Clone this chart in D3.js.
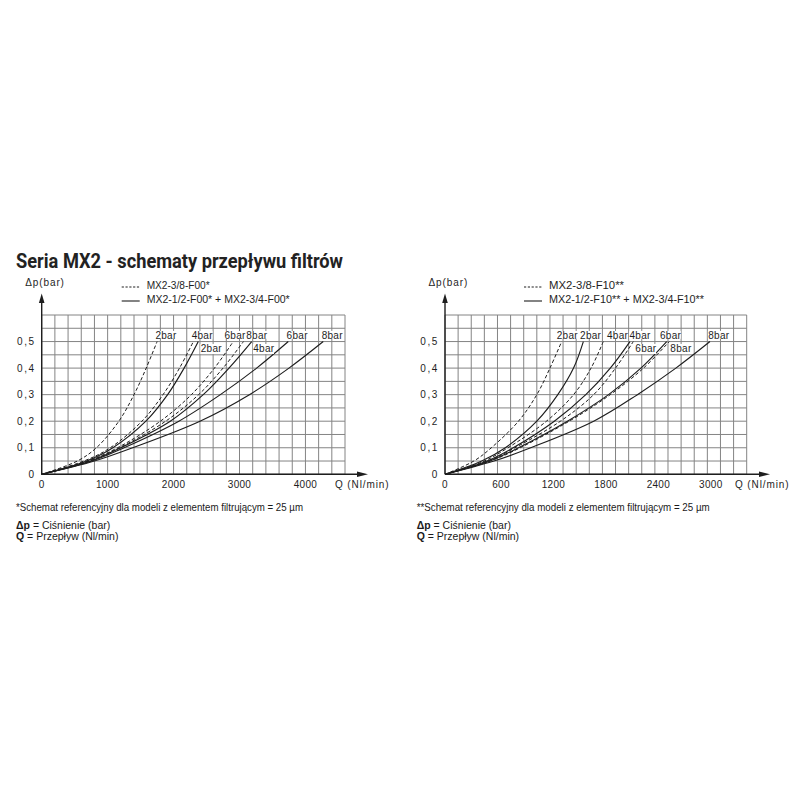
<!DOCTYPE html>
<html><head><meta charset="utf-8">
<script src="https://cdn.jsdelivr.net/npm/d3@7"></script>
<style>
body{margin:0;background:#fff;}
svg{display:block;}
</style></head><body>
<svg id="c" width="800" height="800"></svg>
<script>
// ---- data ----
const dpPoints = [0, 0.05, 0.1, 0.2, 0.3, 0.4, 0.5];           // Δp (bar)
const pressureLabels = ["2bar", "4bar", "6bar", "8bar"];
// Left chart: MX2-3/8-F00* (dashed), MX2-1/2 + 3/4-F00* (solid) — Q (Nl/min) at each dpPoint
const leftDashedQ = [
  [0, 540, 830, 1170, 1400, 1585, 1750],
  [0, 640, 1040, 1520, 1840, 2090, 2300],
  [0, 700, 1150, 1800, 2270, 2620, 2905],
  [0, 720, 1180, 1880, 2380, 2750, 3060]
];
const leftSolidQ = [
  [0, 680, 1080, 1580, 1910, 2160, 2375],
  [0, 740, 1200, 1950, 2450, 2840, 3185],
  [0, 760, 1250, 2080, 2710, 3260, 3740],
  [0, 800, 1380, 2400, 3150, 3750, 4270]
];
// Right chart: MX2-3/8-F10** (dashed), MX2-1/2 + 3/4-F10** (solid)
const rightDashedQ = [
  [0, 330, 530, 840, 1050, 1200, 1334],
  [0, 450, 720, 1160, 1470, 1670, 1810],
  [0, 490, 800, 1320, 1700, 1950, 2153],
  [0, 520, 860, 1420, 1890, 2270, 2565]
];
const rightSolidQ = [
  [0, 420, 690, 1050, 1290, 1470, 1582],
  [0, 480, 780, 1250, 1610, 1890, 2115],
  [0, 510, 840, 1400, 1870, 2240, 2535],
  [0, 560, 980, 1700, 2200, 2640, 3030]
];
const leftXTicks = [0, 1000, 2000, 3000, 4000];
const rightXTicks = [0, 600, 1200, 1800, 2400, 3000];
const yTicks = [0, 0.1, 0.2, 0.3, 0.4, 0.5];
const leftLegend = ["MX2-3/8-F00*", "MX2-1/2-F00* + MX2-3/4-F00*"];
const rightLegend = ["MX2-3/8-F10**", "MX2-1/2-F10** + MX2-3/4-F10**"];
const titleText = "Seria MX2 - schematy przepływu filtrów";
const leftNote = "*Schemat referencyjny dla modeli z elementem filtrującym = 25 µm";
const rightNote = "**Schemat referencyjny dla modeli z elementem filtrującym = 25 µm";

// ---- label placement (style) ----
const leftDashedLab = [[-1.7, "up"], [-1.7, "up"], [-8.8, "up"], [2.8, "up"]];
const leftSolidLab  = [[2.4, "down"], [1.5, "down"], [-1.7, "up"], [-1.6, "up"]];
const rightDashedLab = [[-5, "up"], [3.7, "up"], [2, "down"], [1, "down"]];
const rightSolidLab  = [[-3.3, "up"], [-0.5, "up"], [-6.7, "up"], [-1.8, "up"]];

const svg = d3.select("#c");
const TECH = '"Liberation Sans Narrow","Liberation Sans",Arial,sans-serif';
const ink = "#1e1e1e";
const fmtY = d3.formatLocale({decimal: ",", thousands: " ", grouping: [3], currency: ["", ""]}).format(".1f");

svg.append("text").attr("x", 16).attr("y", 267.5)
  .attr("font-family", "Roboto, 'Open Sans', sans-serif").attr("font-weight", 700)
  .attr("font-size", 20.5).attr("fill", "#222")
  .attr("textLength", 327).attr("lengthAdjust", "spacingAndGlyphs")
  .text(titleText);

function drawChart(cfg) {
  const g = svg.append("g");
  const x = d3.scaleLinear().domain([0, cfg.xMax]).range([cfg.x0, cfg.x1]);
  const y = d3.scaleLinear().domain([0, 0.6]).range([474.3, 315]);

  // grid
  const gx = d3.range(0, cfg.xMax + 1e-6, cfg.xStep);
  const gy = d3.range(0, 0.6 + 1e-6, 0.05);
  g.append("g").selectAll("line").data(gx).join("line")
    .attr("x1", d => x(d)).attr("x2", d => x(d)).attr("y1", y(0)).attr("y2", y(0.6))
    .attr("stroke", "#848484").attr("stroke-width", 1);
  g.append("g").selectAll("line").data(gy).join("line")
    .attr("x1", x(0)).attr("x2", x(cfg.xMax)).attr("y1", d => y(d)).attr("y2", d => y(d))
    .attr("stroke", "#848484").attr("stroke-width", 1);

  // axes with arrows
  g.append("line").attr("x1", x(0)).attr("x2", x(0)).attr("y1", y(0)).attr("y2", 300)
    .attr("stroke", ink).attr("stroke-width", 1.4);
  g.append("path").attr("d", `M${x(0)-2.8},303 L${x(0)+2.8},303 L${x(0)},293.5 Z`).attr("fill", ink);
  g.append("line").attr("x1", x(0)).attr("x2", cfg.arrowX - 8).attr("y1", y(0)).attr("y2", y(0))
    .attr("stroke", ink).attr("stroke-width", 1.4);
  g.append("path").attr("d", `M${cfg.arrowX-11},${y(0)-2.8} L${cfg.arrowX-11},${y(0)+2.8} L${cfg.arrowX},${y(0)} Z`).attr("fill", ink);

  // tick labels
  g.append("g").selectAll("text").data(cfg.xTicks).join("text")
    .attr("x", d => x(d) + (d === 0 ? 0 : cfg.tickDx)).attr("y", 488)
    .attr("text-anchor", "middle").attr("font-family", TECH).attr("font-size", 10)
    .attr("letter-spacing", 0.3).attr("fill", ink).text(d => d);
  g.append("g").selectAll("text").data(yTicks).join("text")
    .attr("x", x(0) - 6).attr("y", d => y(d) + 3.5)
    .attr("text-anchor", "end").attr("font-family", TECH).attr("font-size", 10)
    .attr("letter-spacing", 1.6).attr("fill", ink).text(d => d === 0 ? "0" : fmtY(d));

  g.append("text").attr("x", cfg.qLabelX).attr("y", 488).attr("font-family", TECH)
    .attr("font-size", 10).attr("letter-spacing", 0.9).attr("fill", ink).text("Q (Nl/min)");
  g.append("text").attr("x", x(0) - 16.5).attr("y", 286).attr("font-family", TECH)
    .attr("font-size", 10).attr("letter-spacing", 0.9).attr("fill", ink).text("Δp(bar)");

  // legend
  const lx = cfg.legendX;
  g.append("line").attr("x1", lx).attr("x2", lx + 18).attr("y1", 287).attr("y2", 287)
    .attr("stroke", ink).attr("stroke-width", 1).attr("stroke-dasharray", "2.2,1.6");
  g.append("line").attr("x1", lx).attr("x2", lx + 18).attr("y1", 301).attr("y2", 301)
    .attr("stroke", ink).attr("stroke-width", 1.1);
  g.append("text").attr("x", lx + 25).attr("y", 289).attr("font-family", TECH).attr("font-size", 10)
    .attr("fill", ink).attr("textLength", cfg.legW[0]).attr("lengthAdjust", "spacingAndGlyphs").text(cfg.legend[0]);
  g.append("text").attr("x", lx + 25).attr("y", 303).attr("font-family", TECH).attr("font-size", 10)
    .attr("fill", ink).attr("textLength", cfg.legW[1]).attr("lengthAdjust", "spacingAndGlyphs").text(cfg.legend[1]);

  // curves
  const line = d3.line().x(d => x(d[0])).y(d => y(d[1])).curve(d3.curveCatmullRom.alpha(0.5));
  const series = [];
  cfg.dashed.forEach((q, i) => series.push({q, dash: true, lab: pressureLabels[i], pos: cfg.dashedLab[i]}));
  cfg.solid.forEach((q, i) => series.push({q, dash: false, lab: pressureLabels[i], pos: cfg.solidLab[i]}));
  series.forEach(s => {
    g.append("path").datum(s.q.map((v, j) => [v, dpPoints[j]]))
      .attr("d", line).attr("fill", "none").attr("stroke", ink)
      .attr("stroke-width", s.dash ? 1 : 1.15)
      .attr("stroke-dasharray", s.dash ? "3.5,2.2" : null);
  });
  series.forEach(s => {
    const ex = x(s.q[s.q.length - 1]);
    const up = s.pos[1] === "up";
    const ty = up ? y(0.5) - 2.6 : 352;
    const t = g.append("text").attr("x", ex + s.pos[0]).attr("y", ty)
      .attr("font-family", TECH).attr("font-size", 10).attr("letter-spacing", 0.3)
      .attr("fill", ink).text(s.lab);
    const b = t.node().getBBox();
    g.insert("rect", () => t.node()).attr("x", b.x - 0.3).attr("y", b.y + 1)
      .attr("width", b.width - 0.5).attr("height", up ? ty - b.y - 1.2 : b.height - 1)
      .attr("fill", "#fff");
  });
}

drawChart({x0: 41.7, x1: 345, xMax: 4600, xStep: 200, xTicks: leftXTicks, tickDx: 0,
  arrowX: 368, qLabelX: 335, legendX: 121.7, legend: leftLegend, legW: [63, 143],
  dashed: leftDashedQ, solid: leftSolidQ, dashedLab: leftDashedLab, solidLab: leftSolidLab});
drawChart({x0: 445, x1: 746.7, xMax: 3450, xStep: 150, xTicks: rightXTicks, tickDx: 3.5,
  arrowX: 770, qLabelX: 735, legendX: 524, legend: rightLegend, legW: [75, 155],
  dashed: rightDashedQ, solid: rightSolidQ, dashedLab: rightDashedLab, solidLab: rightSolidLab});

// footnotes
function note(xp, text, w) {
  svg.append("text").attr("x", xp).attr("y", 511).attr("font-family", TECH).attr("font-size", 11)
    .attr("fill", "#1a1a1a").attr("textLength", w).attr("lengthAdjust", "spacingAndGlyphs").text(text);
  const t1 = svg.append("text").attr("x", xp).attr("y", 528.5).attr("font-family", TECH).attr("font-size", 10.5).attr("fill", "#1a1a1a");
  t1.append("tspan").attr("font-weight", 700).text("Δp");
  t1.append("tspan").text(" = Ciśnienie (bar)");
  const t2 = svg.append("text").attr("x", xp).attr("y", 539.5).attr("font-family", TECH).attr("font-size", 10.5).attr("fill", "#1a1a1a");
  t2.append("tspan").attr("font-weight", 700).text("Q");
  t2.append("tspan").text(" = Przepływ (Nl/min)");
}
note(16, leftNote, 287);
note(416.7, rightNote, 293);
</script>
</body></html>
